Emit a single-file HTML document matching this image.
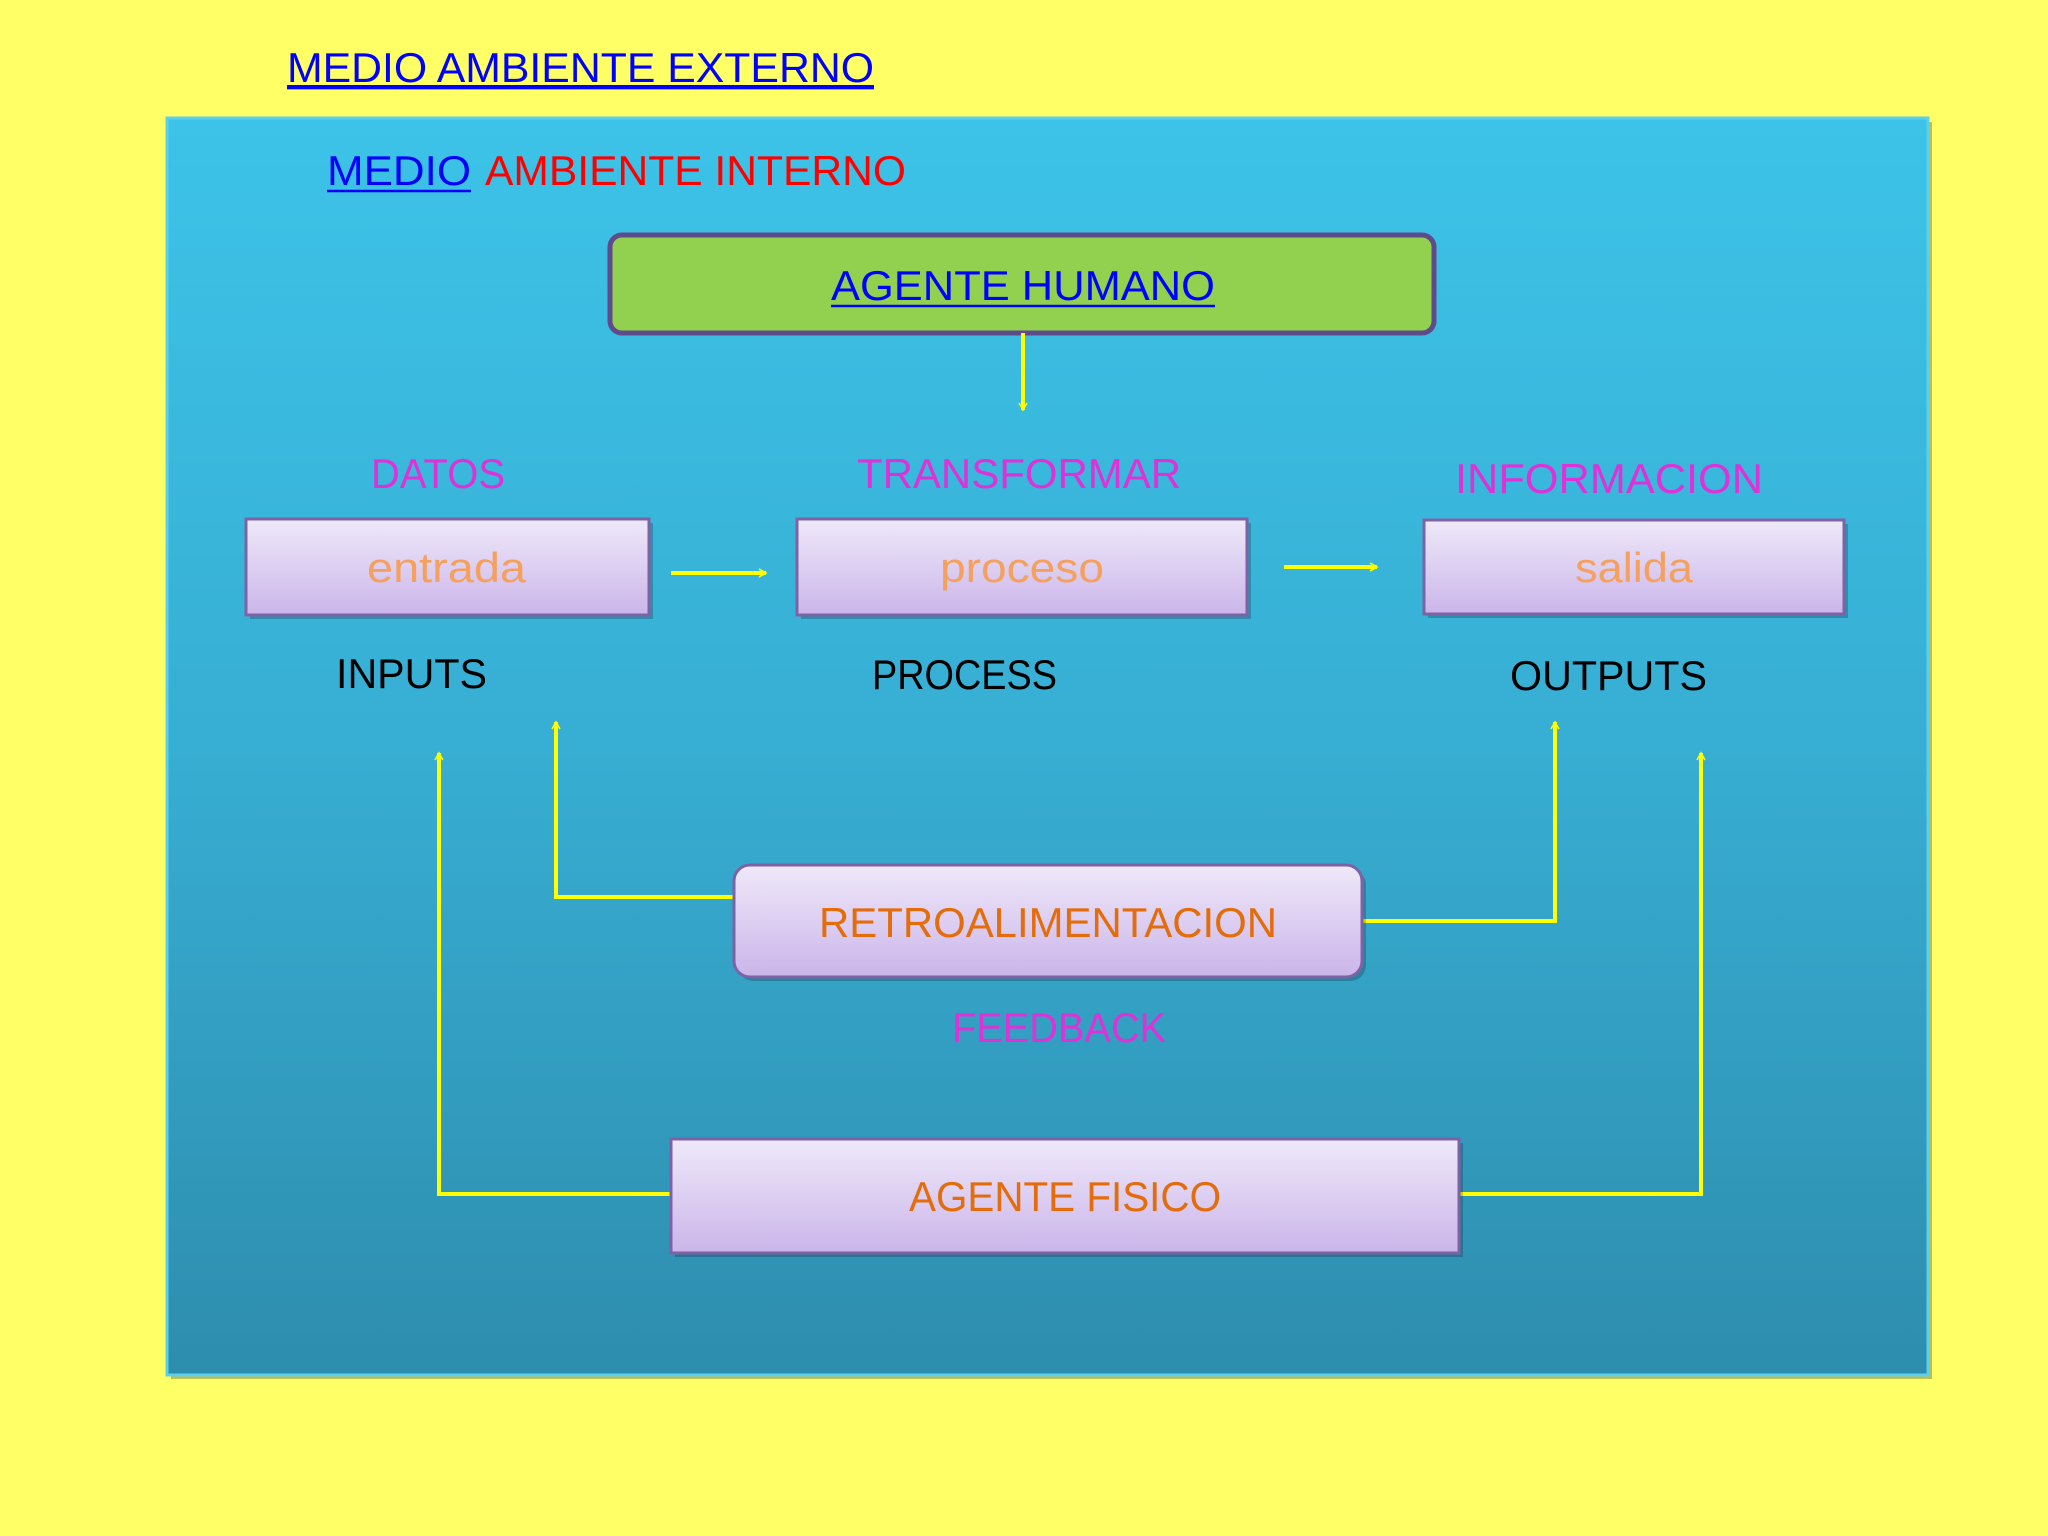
<!DOCTYPE html>
<html><head><meta charset="utf-8"><style>
html,body{margin:0;padding:0;background:#FFFF66;width:2048px;height:1536px;overflow:hidden}
svg{display:block}
text{font-family:"Liberation Sans",sans-serif;font-size:42px}
</style></head><body>
<svg width="2048" height="1536" viewBox="0 0 2048 1536" xmlns="http://www.w3.org/2000/svg">
<defs>
<linearGradient id="pan" x1="0" y1="0" x2="0" y2="1"><stop offset="0" stop-color="#3DC3E8"/><stop offset="0.5" stop-color="#37AED3"/><stop offset="1" stop-color="#2E8DAE"/></linearGradient>
<linearGradient id="box" x1="0" y1="0" x2="0" y2="1"><stop offset="0" stop-color="#EFE9F9"/><stop offset="1" stop-color="#CBB5EA"/></linearGradient>
<marker id="ah" markerWidth="10" markerHeight="10" refX="8" refY="5" orient="auto" markerUnits="userSpaceOnUse" viewBox="0 0 10 10"><path d="M1,1 L8,5 L1,9" fill="none" stroke="#FFFF00" stroke-width="1.6"/></marker>
</defs>
<rect x="0" y="0" width="2048" height="1536" fill="#FFFF66"/>
<rect x="171" y="122" width="1761" height="1257" fill="#000" opacity="0.25"/>
<rect x="167" y="118" width="1761" height="1257" fill="url(#pan)" stroke="#5BD0EE" stroke-width="3"/>

<text x="287" y="82" fill="#0000FF" textLength="587" lengthAdjust="spacingAndGlyphs" text-decoration="underline">MEDIO AMBIENTE EXTERNO</text>
<line x1="287" y1="88" x2="874" y2="88" stroke="#0000FF" stroke-width="2.5"/>
<text x="327" y="185" fill="#0000FF" textLength="144" lengthAdjust="spacingAndGlyphs">MEDIO</text>
<line x1="327" y1="191" x2="471" y2="191" stroke="#0000FF" stroke-width="2.5"/>
<text x="485" y="185" fill="#FF0000" textLength="421" lengthAdjust="spacingAndGlyphs">AMBIENTE INTERNO</text>

<rect x="610" y="235" width="824" height="98" rx="12" fill="#92D050" stroke="#5F4A8B" stroke-width="5"/>
<text x="831" y="300" fill="#0000FF" textLength="384" lengthAdjust="spacingAndGlyphs">AGENTE HUMANO</text>
<line x1="831" y1="306" x2="1215" y2="306" stroke="#0000FF" stroke-width="2.5"/>

<g stroke="#FFFF00" stroke-width="4" fill="none" marker-end="url(#ah)">
<line x1="1023" y1="333" x2="1023" y2="410"/>
<line x1="671" y1="573" x2="766" y2="573"/>
<line x1="1284" y1="567" x2="1377" y2="567"/>
<polyline points="671,1194 439,1194 439,753"/>
<polyline points="734,897 556,897 556,722"/>
<polyline points="1362,921 1555,921 1555,722"/>
<polyline points="1459,1194 1701,1194 1701,753"/>
</g>

<text x="371" y="488" fill="#E030D8" textLength="134" lengthAdjust="spacingAndGlyphs">DATOS</text>
<text x="857" y="488" fill="#E030D8" textLength="324" lengthAdjust="spacingAndGlyphs">TRANSFORMAR</text>
<text x="1455" y="493" fill="#E030D8" textLength="308" lengthAdjust="spacingAndGlyphs">INFORMACION</text>

<g stroke="#7E62A6" stroke-width="3">
<rect x="250" y="523" width="403" height="96" fill="#000" opacity="0.2" stroke="none"/>
<rect x="246" y="519" width="403" height="96" fill="url(#box)"/>
<rect x="801" y="523" width="450" height="96" fill="#000" opacity="0.2" stroke="none"/>
<rect x="797" y="519" width="450" height="96" fill="url(#box)"/>
<rect x="1428" y="524" width="420" height="94" fill="#000" opacity="0.2" stroke="none"/>
<rect x="1424" y="520" width="420" height="94" fill="url(#box)"/>
<rect x="738" y="869" width="628" height="112" rx="16" fill="#000" opacity="0.2" stroke="none"/>
<rect x="734" y="865" width="628" height="112" rx="16" fill="url(#box)"/>
<rect x="675" y="1143" width="788" height="114" fill="#000" opacity="0.2" stroke="none"/>
<rect x="671" y="1139" width="788" height="114" fill="url(#box)"/>
</g>
<text x="367" y="582" fill="#F5A05C" textLength="159" lengthAdjust="spacingAndGlyphs">entrada</text>
<text x="940" y="582" fill="#F5A05C" textLength="164" lengthAdjust="spacingAndGlyphs">proceso</text>
<text x="1575" y="582" fill="#F5A05C" textLength="118" lengthAdjust="spacingAndGlyphs">salida</text>

<text x="336" y="688" fill="#000" textLength="151" lengthAdjust="spacingAndGlyphs">INPUTS</text>
<text x="872" y="689" fill="#000" textLength="185" lengthAdjust="spacingAndGlyphs">PROCESS</text>
<text x="1510" y="690" fill="#000" textLength="197" lengthAdjust="spacingAndGlyphs">OUTPUTS</text>

<text x="819" y="937" fill="#E46C0A" textLength="458" lengthAdjust="spacingAndGlyphs">RETROALIMENTACION</text>
<text x="952" y="1042" fill="#E030D8" textLength="214" lengthAdjust="spacingAndGlyphs">FEEDBACK</text>
<text x="909" y="1211" fill="#E46C0A" textLength="312" lengthAdjust="spacingAndGlyphs">AGENTE FISICO</text>
</svg>
</body></html>
